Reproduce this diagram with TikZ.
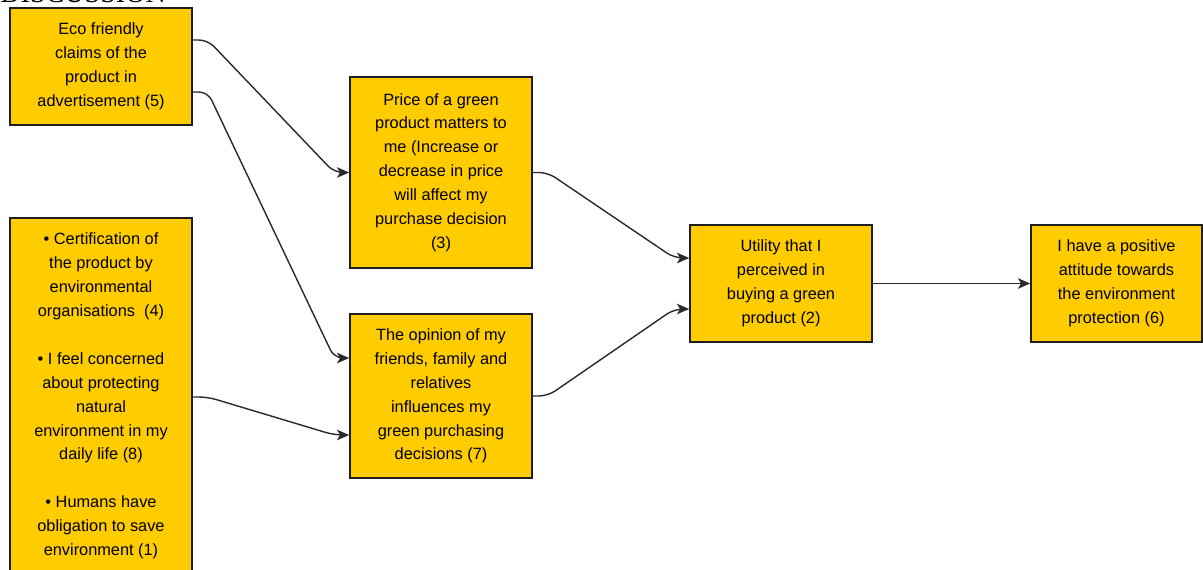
\documentclass[tikz,border=0pt]{standalone}
\usepackage{fontspec}
\setmainfont{Liberation Sans}
\newfontfamily\headfont{Liberation Serif}
\usetikzlibrary{arrows.meta}
\definecolor{boxfill}{HTML}{FFCC00}
\definecolor{boxline}{HTML}{1E1E1E}
\definecolor{linkline}{HTML}{2A2A2A}
\begin{document}
\begin{tikzpicture}
[x=0.02cm, y=-0.02cm,
 boxdecorate/.style={shape=rectangle,draw=boxline,fill=boxfill,line width=0.9pt,
   align=center,inner sep=0pt,minimum width=3.64cm,
   font=\fontsize{9.3}{13.6}\selectfont},%
 linedecorate/.style={-{Stealth[length=7pt,width=6pt,inset=1.8pt]},draw=linkline,
   line width=0.8pt,rounded corners=5pt}]
\useasboundingbox (0,0) rectangle (1203,569);
%% heading, cut by the page
\node (heading) [anchor=base west,inner sep=0pt,font=\headfont\fontsize{16}{16}\selectfont]
  at (0,2) {DISCUSSION};
%% nodes or boxes
\node (a) at (101,66.5) [boxdecorate,minimum height=2.34cm]
  {Eco friendly\\claims of the\\product in\\advertisement (5)};
\node (b) at (101,396) [boxdecorate,minimum height=7.12cm]
  {\textbullet\ Certification of\\the product by\\environmental\\organisations\ \ (4)\\[13.6pt]
   \textbullet\ I feel concerned\\about protecting\\natural\\environment in my\\daily life (8)\\[13.6pt]
   \textbullet\ Humans have\\obligation to save\\environment (1)};
\node (c) at (441,172.5) [boxdecorate,minimum height=3.82cm]
  {Price of a green\\product matters to\\me (Increase or\\decrease in price\\will affect my\\purchase decision\\(3)};
\node (d) at (441,396) [boxdecorate,minimum height=3.28cm]
  {The opinion of my\\friends, family and\\relatives\\influences my\\green purchasing\\decisions (7)};
\node (e) at (781,283.5) [boxdecorate,minimum height=2.34cm]
  {Utility that I\\perceived in\\buying a green\\product (2)};
\node (f) at (1116.5,283.5) [boxdecorate,minimum height=2.34cm,minimum width=3.42cm]
  {I have a positive\\attitude towards\\the environment\\protection (6)};
%% edges or links
\foreach \startnode/\startshift/\endnode/\endshift in {a/0.53/c/0, a/-0.51/d/0.76,
  b/-0.02/d/-0.78, c/0/e/0.51, d/0/e/-0.51}
{
  \draw [linedecorate] ([yshift=\startshift cm]\startnode.east) -- ++(15,0)
    -- ([xshift=-0.3cm,yshift=\endshift cm]\endnode.west)
    -- ([yshift=\endshift cm]\endnode.west);
}
\draw [linedecorate] (e.east) -- (f.west);
\end{tikzpicture}
\end{document}
